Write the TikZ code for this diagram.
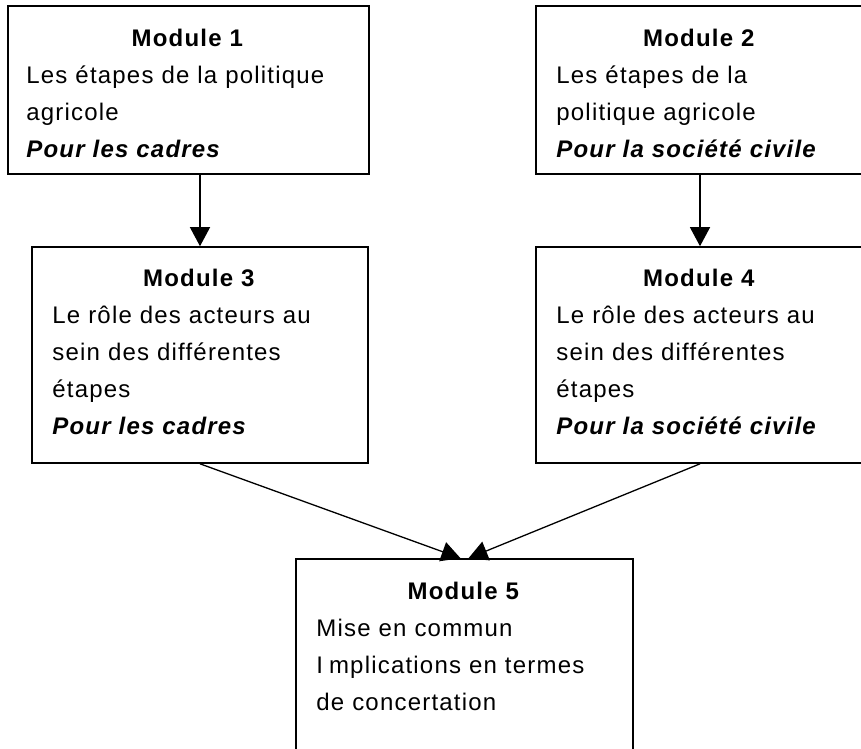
\documentclass[tikz,border=0pt]{standalone}
\usepackage{fontspec}
\setmainfont{Liberation Sans}[LetterSpace=5]
\usetikzlibrary{arrows.meta}

\newcommand{\modtitle}[1]{\hfill\textbf{#1}\hfill\mbox{}\\}

\begin{document}
\begin{tikzpicture}[x=1pt, y=-1pt,
  box/.style={draw, line width=1.6pt, inner sep=0pt},
  txt/.style={anchor=north west, inner sep=0pt, align=left,
    font=\fontsize{24}{37}\selectfont},
  arr/.style={line width=1.3pt, -{Triangle[length=19pt,width=20pt]}}]
\useasboundingbox (0,0) rectangle (861,748);
\clip (0,0) rectangle (861,748);

% boxes
\node[box, minimum width=361pt, minimum height=168pt] (m1) at (188.5,90) {};
\node[box, minimum width=328pt, minimum height=168pt] (m2) at (700,90) {};
\node[box, minimum width=336pt, minimum height=216pt] (m3) at (200,355) {};
\node[box, minimum width=328pt, minimum height=216pt] (m4) at (700,355) {};
\node[box, minimum width=337pt, minimum height=230pt] (m5) at (464.5,674) {};

% texts
\node[txt, text width=323pt] (m1txt) at ([xshift=19pt,yshift=-24pt]m1.north west)
  {\modtitle{Module 1}Les étapes de la politique\\agricole\\\textbf{\textit{Pour les cadres}}};
\node[txt, text width=286pt] (m2txt) at ([xshift=21pt,yshift=-24pt]m2.north west)
  {\modtitle{Module 2}Les étapes de la\\politique agricole\\\textbf{\textit{Pour la société civile}}};
\node[txt, text width=294pt] (m3txt) at ([xshift=21pt,yshift=-23pt]m3.north west)
  {\modtitle{Module 3}Le rôle des acteurs au\\sein des différentes\\étapes\\\textbf{\textit{Pour les cadres}}};
\node[txt, text width=286pt] (m4txt) at ([xshift=21pt,yshift=-23pt]m4.north west)
  {\modtitle{Module 4}Le rôle des acteurs au\\sein des différentes\\étapes\\\textbf{\textit{Pour la société civile}}};
\node[txt, text width=295pt] (m5txt) at ([xshift=21pt,yshift=-24pt]m5.north west)
  {\modtitle{Module 5}Mise en commun\\I\kern6pt mplications en termes\\de concertation};

% arrows
\draw[arr] (m3.north |- m1.south) -- (m3.north);
\draw[arr] (m2.south) -- (m4.north);
\draw[arr] (m3.south) -- ([xshift=-4pt]m5.north);
\draw[arr] (m4.south) -- ([xshift=4pt]m5.north);
\end{tikzpicture}
\end{document}
